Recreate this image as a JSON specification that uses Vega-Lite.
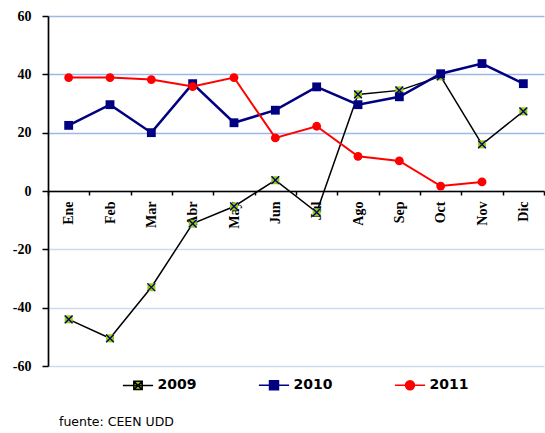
{
  "$schema": "https://vega.github.io/schema/vega-lite/v6.json",
  "width": 496,
  "height": 350,
  "autosize": {"type": "none"},
  "padding": {"left": 48, "top": 16, "right": 1, "bottom": 67},
  "background": "white",
  "config": {"view": {"stroke": null}},
  "title": {"text": "fuente: CEEN UDD", "orient": "bottom", "anchor": "start", "frame": "group", "font": "DejaVu Sans", "fontSize": 12.5, "fontWeight": "normal", "color": "black", "dx": 11, "offset": 23, "baseline": "top"},
  "data": {"values": [
    {"mes": "Ene", "year": "2009", "v": -44}, {"mes": "Feb", "year": "2009", "v": -50.5}, {"mes": "Mar", "year": "2009", "v": -33}, {"mes": "Abr", "year": "2009", "v": -11.2}, {"mes": "May", "year": "2009", "v": -5.3}, {"mes": "Jun", "year": "2009", "v": 3.7}, {"mes": "Jul", "year": "2009", "v": -7.3}, {"mes": "Ago", "year": "2009", "v": 33.1}, {"mes": "Sep", "year": "2009", "v": 34.5}, {"mes": "Oct", "year": "2009", "v": 39.3}, {"mes": "Nov", "year": "2009", "v": 16}, {"mes": "Dic", "year": "2009", "v": 27.3},
    {"mes": "Ene", "year": "2010", "v": 22.5}, {"mes": "Feb", "year": "2010", "v": 29.6}, {"mes": "Mar", "year": "2010", "v": 20}, {"mes": "Abr", "year": "2010", "v": 36.8}, {"mes": "May", "year": "2010", "v": 23.4}, {"mes": "Jun", "year": "2010", "v": 27.7}, {"mes": "Jul", "year": "2010", "v": 35.7}, {"mes": "Ago", "year": "2010", "v": 29.6}, {"mes": "Sep", "year": "2010", "v": 32.3}, {"mes": "Oct", "year": "2010", "v": 40.2}, {"mes": "Nov", "year": "2010", "v": 43.7}, {"mes": "Dic", "year": "2010", "v": 36.8},
    {"mes": "Ene", "year": "2011", "v": 38.9}, {"mes": "Feb", "year": "2011", "v": 38.9}, {"mes": "Mar", "year": "2011", "v": 38.2}, {"mes": "Abr", "year": "2011", "v": 35.8}, {"mes": "May", "year": "2011", "v": 38.9}, {"mes": "Jun", "year": "2011", "v": 18.2}, {"mes": "Jul", "year": "2011", "v": 22.2}, {"mes": "Ago", "year": "2011", "v": 11.9}, {"mes": "Sep", "year": "2011", "v": 10.3}, {"mes": "Oct", "year": "2011", "v": 1.7}, {"mes": "Nov", "year": "2011", "v": 3.1}
  ]},
  "encoding": {
    "x": {"field": "mes", "type": "nominal", "sort": ["Ene","Feb","Mar","Abr","May","Jun","Jul","Ago","Sep","Oct","Nov","Dic"],
      "scale": {"type": "band", "paddingInner": 0, "paddingOuter": 0},
      "axis": {"title": null, "orient": "bottom", "offset": -175, "tickBand": "extent", "labelAngle": 270, "labelFont": "Liberation Serif", "labelFontWeight": "bold", "labelFontSize": 14, "labelColor": "black", "labelPadding": 6, "tickSize": 4, "tickColor": "black", "tickWidth": 1.5, "domainColor": "black", "domainWidth": 1.5, "grid": false}},
    "y": {"field": "v", "type": "quantitative", "scale": {"domain": [-60, 60], "nice": false, "zero": false},
      "axis": {"title": null, "values": [-60,-40,-20,0,20,40,60], "labelExpr": "'' + datum.value", "labelFont": "Liberation Serif", "labelFontWeight": "bold", "labelFontSize": 14, "labelColor": "black", "labelPadding": 11, "tickSize": 6, "tickColor": "black", "tickWidth": 1.5, "domainColor": "black", "domainWidth": 1.7, "grid": true, "gridWidth": 1.5,
        "gridColor": {"condition": {"test": "datum.value < 0", "value": "#cfdaf0"}, "value": "#9fb7e6"}}}
  },
  "layer": [
    {"transform": [{"filter": "datum.year === '2009'"}], "mark": {"type": "line", "stroke": "#000000", "strokeWidth": 1.5}, "encoding": {}},
    {"transform": [{"filter": "datum.year === '2010'"}], "mark": {"type": "line", "stroke": "#000080", "strokeWidth": 2.5}, "encoding": {}},
    {"transform": [{"filter": "datum.year === '2011'"}], "mark": {"type": "line", "stroke": "#ff0000", "strokeWidth": 2}, "encoding": {}},
    {"mark": {"type": "point", "filled": true, "opacity": 0, "size": 72},
     "encoding": {
       "fill": {"field": "year", "type": "nominal", "scale": {"domain": ["2009","2010","2011"], "range": ["#99cc00","#000080","#ff0000"]},
         "legend": {"title": null, "orient": "none", "legendX": 83, "legendY": 362, "direction": "horizontal", "columns": 3, "padding": 0,
           "symbolSize": 125, "symbolOpacity": 1, "symbolStrokeWidth": 1.5, "labelOffset": 12.5, "columnPadding": 58, "labelFont": "DejaVu Sans", "labelFontWeight": "bold", "labelFontSize": 14, "labelColor": "black"}},
       "stroke": {"field": "year", "type": "nominal", "scale": {"domain": ["2009","2010","2011"], "range": ["#000000","#000080","#ff0000"]},
         "legend": {"title": null, "orient": "none", "legendX": 83, "legendY": 362, "direction": "horizontal", "columns": 3, "padding": 0,
           "symbolSize": 125, "symbolOpacity": 1, "symbolStrokeWidth": 1.5, "labelOffset": 12.5, "columnPadding": 58, "labelFont": "DejaVu Sans", "labelFontWeight": "bold", "labelFontSize": 14, "labelColor": "black"}},
       "shape": {"field": "year", "type": "nominal", "scale": {"domain": ["2009","2010","2011"], "range": ["M-2.7,0H2.7M-0.75,-0.75H0.75V0.75H-0.75ZM-0.75,-0.75L0.75,0.75M0.75,-0.75L-0.75,0.75", "M-2.7,0H2.7M-0.8,-0.8H0.8V0.8H-0.8Z", "M-2.7,0H2.7M0.8,0A0.8,0.8,0,1,1,-0.8,0A0.8,0.8,0,1,1,0.8,0Z"]},
         "legend": {"title": null, "orient": "none", "legendX": 83, "legendY": 362, "direction": "horizontal", "columns": 3, "padding": 0,
           "symbolSize": 125, "symbolOpacity": 1, "symbolStrokeWidth": 1.5, "labelOffset": 12.5, "columnPadding": 58, "labelFont": "DejaVu Sans", "labelFontWeight": "bold", "labelFontSize": 14, "labelColor": "black"}}
     }},
    {"transform": [{"filter": "datum.year === '2009'"}], "mark": {"type": "point", "filled": true, "opacity": 1, "size": 64, "shape": "square", "fill": "#99cc00"}},
    {"transform": [{"filter": "datum.year === '2009'"}], "mark": {"type": "point", "filled": false, "opacity": 1, "size": 60, "shape": "M-1,-1L1,1M1,-1L-1,1", "stroke": "#000080", "strokeWidth": 1.4}},
    {"transform": [{"filter": "datum.year === '2010'"}], "mark": {"type": "point", "filled": true, "opacity": 1, "size": 78, "shape": "square", "fill": "#000080"}},
    {"transform": [{"filter": "datum.year === '2011'"}], "mark": {"type": "point", "filled": true, "opacity": 1, "size": 78, "shape": "circle", "fill": "#ff0000"}}
  ]
}
